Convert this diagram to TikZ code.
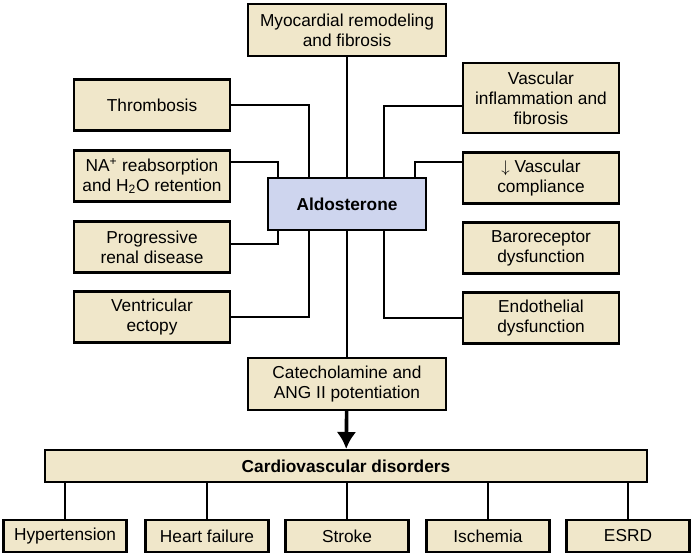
\documentclass[tikz,border=0pt]{standalone}
\usepackage{fontspec}
\setmainfont{Liberation Sans}
\usetikzlibrary{arrows.meta}
\definecolor{boxtan}{RGB}{240,231,202}
\definecolor{boxblue}{RGB}{206,213,238}
\begin{document}
\begin{tikzpicture}[x=0.025cm,y=-0.025cm,>={Latex[length=12pt,width=14pt]}]
\tikzset{
  effect/.style={draw,line width=1.6pt,fill=boxtan,align=center,inner sep=2pt,
    font=\fontsize{12.3}{14.2}\selectfont,minimum width=3.9cm,minimum height=1.275cm},
  wide/.style={effect,minimum width=4.95cm,minimum height=1.3cm},
  hub/.style={effect,fill=boxblue,minimum width=3.95cm,minimum height=1.3cm,font=\fontsize{12.3}{14.2}\selectfont\bfseries},
  disorder/.style={effect,minimum width=3.075cm,minimum height=0.8cm},
  link/.style={line width=1.3pt}
}
\useasboundingbox (0,0) rectangle (692,560);
\node[hub] (aldo) at (347,204) {Aldosterone};
\node[wide] (myo) at (347,30) {Myocardial remodeling\\and fibrosis};
\node[wide] (cat) at (347,384) {Catecholamine and\\ANG II potentiation};
\node[effect] (thromb) at (152,105) {Thrombosis};
\node[effect] (na) at (152,176) {NA\textsuperscript{+} reabsorption\\and H\textsubscript{2}O retention};
\node[effect] (renal) at (152,247) {Progressive\\renal disease};
\node[effect] (ecto) at (152,317) {Ventricular\\ectopy};
\node[effect,minimum height=1.75cm] (infl) at (541,98) {Vascular\\inflammation and\\fibrosis};
\node[effect] (comp) at (541,178) {$\downarrow$ Vascular\\compliance};
\node[effect] (baro) at (541,248) {Baroreceptor\\dysfunction};
\node[effect] (endo) at (541,318) {Endothelial\\dysfunction};
\node[effect,minimum width=15.05cm,minimum height=0.8cm,font=\fontsize{12.3}{14.2}\selectfont\bfseries] (cvd) at (346,466) {Cardiovascular disorders};
\node[disorder] (htn) at (65,536) {Hypertension};
\node[disorder] (hf) at (207,536) {Heart failure};
\node[disorder] (stroke) at (347,536) {Stroke};
\node[disorder] (isch) at (488,536) {Ischemia};
\node[disorder] (esrd) at (628,536) {ESRD};
% links into and out of the hub
\draw[link] (myo) -- (aldo);
\draw[link] (aldo) -- (cat);
\draw[link] (thromb.east) -| ([xshift=-0.95cm]aldo.north);
\draw[link] ([yshift=0.35cm]na.east) -| ([xshift=-1.725cm]aldo.north);
\draw[link] ([yshift=0.08cm]renal.east) -| ([xshift=-1.725cm]aldo.south);
\draw[link] (ecto.east) -| ([xshift=-0.95cm]aldo.south);
\draw[link] ([yshift=-0.2cm]infl.west) -| ([xshift=0.925cm]aldo.north);
\draw[link] ([yshift=0.4cm]comp.west) -| ([xshift=1.7cm]aldo.north);
\draw[link] (endo.west) -| ([xshift=0.925cm]aldo.south);
\draw[->,line width=2.6pt] (cat) -- (cvd);
\foreach \d in {htn,hf,stroke,isch,esrd}
  \draw[link] (\d.north) -- (\d.north |- cvd.south);
\end{tikzpicture}
\end{document}
